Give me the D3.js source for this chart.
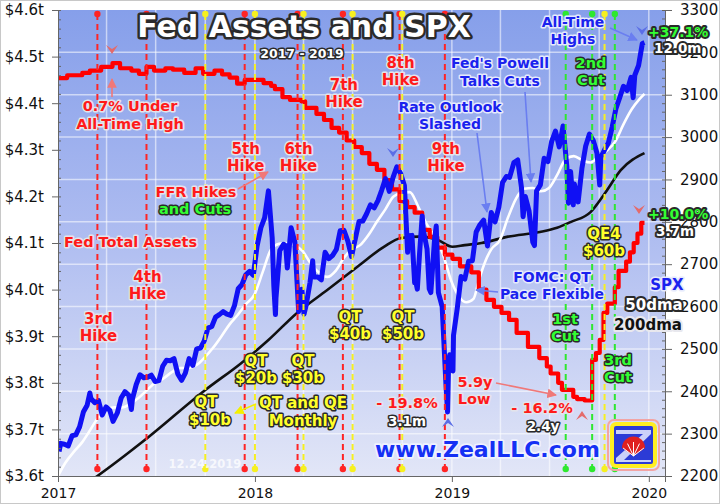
<!DOCTYPE html>
<html><head><meta charset="utf-8">
<script src="https://cdn.jsdelivr.net/npm/d3@7"></script>
<style>
body{margin:0;background:#fff}
svg{display:block}
.ax text{font-family:"DejaVu Sans",sans-serif;fill:#111}
.ax path,.ax line{stroke:#666}
</style></head>
<body><svg id="c" width="720" height="504"></svg>
<script>
// ---------- DATA ----------
const leftTicks = [3.6,3.7,3.8,3.9,4.0,4.1,4.2,4.3,4.4,4.5,4.6];
const rightTicks = [2200,2300,2400,2500,2600,2700,2800,2900,3000,3100,3200,3300];
const yearTicks = ["2017-01-01","2018-01-01","2019-01-01","2020-01-01"];
const gridQuarters = ["2017-04-01","2017-07-01","2017-10-01","2018-01-01","2018-04-01","2018-07-01","2018-10-01","2019-01-01","2019-04-01","2019-07-01","2019-10-01","2020-01-01"];
const gridSpx = [2300,2400,2500,2600,2700,2800,2900,3000,3100,3200];

const hikeDates = ["2017-03-15","2017-06-14","2017-12-13","2018-03-21","2018-06-13","2018-09-26","2018-12-19"];
const qtDates = ["2017-10-01","2018-01-01","2018-04-01","2018-07-01","2018-10-01","2019-10-11"];
const cutDates = ["2019-07-31","2019-09-18","2019-10-30"];

const spxClose = [
["2017-01-03",2258],["2017-01-06",2277],["2017-01-13",2275],["2017-01-20",2271],["2017-01-27",2295],
["2017-02-03",2297],["2017-02-10",2316],["2017-02-17",2351],["2017-02-24",2367],["2017-03-01",2396],
["2017-03-03",2383],["2017-03-10",2373],["2017-03-17",2378],["2017-03-24",2344],["2017-03-31",2363],
["2017-04-07",2355],["2017-04-13",2329],["2017-04-21",2349],["2017-04-28",2384],["2017-05-05",2399],
["2017-05-12",2391],["2017-05-17",2357],["2017-05-19",2382],["2017-05-26",2416],["2017-06-02",2439],
["2017-06-09",2432],["2017-06-16",2433],["2017-06-23",2438],["2017-06-30",2423],["2017-07-07",2425],
["2017-07-14",2459],["2017-07-21",2473],["2017-07-28",2472],["2017-08-04",2477],["2017-08-11",2441],
["2017-08-18",2426],["2017-08-25",2443],["2017-09-01",2477],["2017-09-08",2461],["2017-09-15",2500],
["2017-09-22",2502],["2017-09-29",2519],["2017-10-06",2549],["2017-10-13",2553],["2017-10-20",2575],
["2017-10-27",2581],["2017-11-03",2588],["2017-11-10",2582],["2017-11-17",2579],["2017-11-24",2602],
["2017-12-01",2642],["2017-12-08",2652],["2017-12-15",2675],["2017-12-22",2683],["2017-12-29",2674],
["2018-01-05",2743],["2018-01-12",2786],["2018-01-19",2810],["2018-01-26",2873],["2018-02-02",2762],
["2018-02-05",2649],["2018-02-08",2581],["2018-02-09",2620],["2018-02-16",2732],["2018-02-23",2747],
["2018-02-27",2744],["2018-03-02",2691],["2018-03-09",2786],["2018-03-16",2752],["2018-03-23",2588],
["2018-03-29",2641],["2018-04-02",2582],["2018-04-06",2604],["2018-04-13",2656],["2018-04-18",2708],
["2018-04-20",2670],["2018-04-27",2670],["2018-05-04",2663],["2018-05-11",2728],["2018-05-18",2713],
["2018-05-25",2721],["2018-06-01",2735],["2018-06-08",2779],["2018-06-15",2780],["2018-06-22",2755],
["2018-06-29",2718],["2018-07-06",2760],["2018-07-13",2801],["2018-07-20",2802],["2018-07-27",2819],
["2018-08-03",2840],["2018-08-10",2833],["2018-08-17",2850],["2018-08-24",2875],["2018-08-31",2902],
["2018-09-07",2872],["2018-09-14",2905],["2018-09-21",2930],["2018-09-28",2914],["2018-10-05",2886],
["2018-10-11",2728],["2018-10-12",2767],["2018-10-19",2768],["2018-10-24",2656],["2018-10-26",2659],
["2018-10-29",2641],["2018-11-02",2723],["2018-11-07",2814],["2018-11-09",2781],["2018-11-16",2736],
["2018-11-20",2642],["2018-11-23",2633],["2018-11-30",2760],["2018-12-03",2790],["2018-12-07",2633],
["2018-12-14",2600],["2018-12-21",2417],["2018-12-24",2351],["2018-12-26",2468],["2018-12-28",2486],
["2019-01-03",2448],["2019-01-04",2532],["2019-01-11",2596],["2019-01-18",2671],["2019-01-25",2665],
["2019-02-01",2707],["2019-02-08",2708],["2019-02-15",2776],["2019-02-22",2793],["2019-03-01",2804],
["2019-03-08",2743],["2019-03-15",2822],["2019-03-22",2800],["2019-03-29",2834],["2019-04-05",2893],
["2019-04-12",2907],["2019-04-18",2905],["2019-04-26",2940],["2019-05-03",2946],["2019-05-10",2881],
["2019-05-13",2812],["2019-05-17",2860],["2019-05-24",2826],["2019-05-31",2752],["2019-06-03",2744],
["2019-06-07",2873],["2019-06-14",2887],["2019-06-21",2950],["2019-06-28",2942],["2019-07-05",2990],
["2019-07-12",3014],["2019-07-19",2977],["2019-07-26",3026],["2019-08-02",2932],["2019-08-05",2844],
["2019-08-09",2919],["2019-08-14",2840],["2019-08-16",2889],["2019-08-23",2847],["2019-08-30",2926],
["2019-09-06",2979],["2019-09-13",3007],["2019-09-20",2992],["2019-09-27",2962],["2019-10-02",2887],
["2019-10-04",2952],["2019-10-11",2970],["2019-10-18",2986],["2019-10-25",3023],["2019-11-01",3067],
["2019-11-08",3093],["2019-11-15",3120],["2019-11-22",3110],["2019-11-29",3141],["2019-12-03",3093],
["2019-12-06",3146],["2019-12-13",3169],["2019-12-20",3221],["2019-12-24",3223]
];

const spx50dma = [
["2017-01-01",2200],["2017-01-15",2232],["2017-01-31",2258],["2017-02-15",2280],["2017-02-28",2305],
["2017-03-15",2335],["2017-03-31",2355],["2017-04-15",2362],["2017-04-30",2362],["2017-05-15",2370],
["2017-05-31",2385],["2017-06-15",2403],["2017-06-30",2420],["2017-07-15",2430],["2017-07-31",2445],
["2017-08-15",2455],["2017-08-31",2455],["2017-09-15",2462],["2017-09-30",2480],["2017-10-15",2502],
["2017-10-31",2530],["2017-11-15",2558],["2017-11-30",2580],["2017-12-15",2605],["2017-12-31",2628],
["2018-01-15",2680],["2018-01-31",2735],["2018-02-15",2748],["2018-02-28",2750],["2018-03-15",2745],
["2018-03-31",2730],["2018-04-15",2700],["2018-04-30",2680],["2018-05-15",2670],["2018-05-31",2685],
["2018-06-15",2715],["2018-06-30",2735],["2018-07-15",2745],["2018-07-31",2770],["2018-08-15",2800],
["2018-08-31",2830],["2018-09-15",2860],["2018-09-30",2868],["2018-10-15",2870],["2018-10-31",2835],
["2018-11-15",2795],["2018-11-30",2765],["2018-12-15",2725],["2018-12-31",2660],["2019-01-15",2622],
["2019-01-28",2610],["2019-02-10",2618],["2019-02-20",2662],["2019-03-05",2710],["2019-03-15",2735],
["2019-03-31",2757],["2019-04-15",2810],["2019-04-30",2855],["2019-05-15",2878],["2019-05-31",2880],
["2019-06-15",2872],["2019-06-30",2880],["2019-07-15",2910],["2019-07-31",2948],["2019-08-15",2955],
["2019-08-31",2945],["2019-09-15",2940],["2019-09-30",2955],["2019-10-15",2968],["2019-10-31",2990],
["2019-11-15",3030],["2019-11-30",3065],["2019-12-15",3090],["2019-12-24",3102]
];

const spx200dma = [
["2017-01-01",2140],["2017-03-15",2200],["2017-06-14",2288],["2017-10-01",2403],["2017-12-07",2467],
["2018-01-26",2521],["2018-03-20",2585],["2018-05-15",2639],["2018-07-10",2694],["2018-08-28",2741],
["2018-09-29",2762],["2018-11-01",2765],["2018-12-06",2757],["2019-01-02",2741],["2019-01-25",2745],
["2019-02-25",2750],["2019-04-15",2765],["2019-06-13",2776],["2019-07-15",2786],["2019-08-10",2800],
["2019-09-15",2823],["2019-10-12",2868],["2019-11-10",2922],["2019-12-24",2962]
];

const fedAssets = [
["2017-01-01",4.454],["2017-01-18",4.46],["2017-02-15",4.465],["2017-03-01",4.47],["2017-03-22",4.478],
["2017-04-12",4.486],["2017-04-26",4.475],["2017-05-17",4.47],["2017-05-31",4.463],["2017-06-14",4.478],
["2017-06-28",4.47],["2017-07-19",4.475],["2017-08-02",4.472],["2017-08-23",4.465],["2017-09-13",4.475],
["2017-09-27",4.463],["2017-10-18",4.47],["2017-11-01",4.462],["2017-11-15",4.455],["2017-11-29",4.442],
["2017-12-13",4.45],["2017-12-27",4.45],["2018-01-17",4.443],["2018-01-31",4.437],["2018-02-07",4.43],
["2018-02-21",4.413],["2018-03-07",4.407],["2018-03-28",4.404],["2018-04-04",4.39],["2018-04-25",4.377],
["2018-05-09",4.364],["2018-05-23",4.347],["2018-06-06",4.337],["2018-06-20",4.32],["2018-07-04",4.306],
["2018-07-18",4.293],["2018-08-01",4.27],["2018-08-15",4.257],["2018-08-29",4.235],["2018-09-12",4.215],
["2018-09-26",4.19],["2018-10-10",4.177],["2018-10-24",4.165],["2018-11-07",4.128],["2018-11-21",4.113],
["2018-12-05",4.09],["2018-12-19",4.075],["2019-01-02",4.066],["2019-01-16",4.05],["2019-02-06",4.037],
["2019-02-20",4.0],["2019-03-06",3.978],["2019-03-20",3.963],["2019-04-03",3.95],["2019-04-17",3.935],
["2019-05-01",3.907],["2019-05-22",3.877],["2019-06-12",3.853],["2019-06-26",3.835],["2019-07-03",3.82],
["2019-07-17",3.8],["2019-07-24",3.785],["2019-08-14",3.77],["2019-08-21",3.765],["2019-09-04",3.762],
["2019-09-18",3.849],["2019-09-25",3.864],["2019-10-02",3.892],["2019-10-09",3.95],["2019-10-16",3.97],
["2019-10-30",4.005],["2019-11-06",4.04],["2019-11-20",4.06],["2019-11-27",4.08],["2019-12-04",4.10],
["2019-12-11",4.12],["2019-12-18",4.143],["2019-12-24",4.143]
];

// ---------- SETUP ----------
const parse = d3.utcParse("%Y-%m-%d");
const L = 58, R = 665, T = 10, B = 476;
const svg = d3.select("#c");
const x = d3.scaleUtc().domain([parse("2017-01-01"), parse("2020-01-31")]).range([L, R]);
const yL = d3.scaleLinear().domain([3.6, 4.6]).range([B, T]);
const yR = d3.scaleLinear().domain([2200, 3300]).range([B, T]);
const FONT = '"DejaVu Sans", Verdana, sans-serif';

const defs = svg.append("defs");
const grad = defs.append("linearGradient").attr("id", "bg").attr("x1", 0).attr("y1", 0).attr("x2", 0).attr("y2", 1);
grad.append("stop").attr("offset", "0%").attr("stop-color", "#869fea");
grad.append("stop").attr("offset", "45%").attr("stop-color", "#abbaf0");
grad.append("stop").attr("offset", "100%").attr("stop-color", "#e2e6f7");
defs.append("clipPath").attr("id", "plot").append("rect").attr("x", L).attr("y", T).attr("width", R - L).attr("height", B - T);
function marker(id, color) {
  defs.append("marker").attr("id", id).attr("viewBox", "0 0 10 10").attr("refX", 9).attr("refY", 5)
    .attr("markerWidth", 6).attr("markerHeight", 6).attr("orient", "auto")
    .append("path").attr("d", "M0,0 L10,5 L0,10 z").attr("fill", color);
}
marker("arPink", "#f07878"); marker("arBlue", "#6a7ef0"); marker("arYel", "#f4f000");

svg.append("rect").attr("x", 0.5).attr("y", 0.5).attr("width", 719).attr("height", 503).attr("fill", "#fff").attr("stroke", "#c8c8c8");
svg.append("rect").attr("x", L).attr("y", T).attr("width", R - L).attr("height", B - T).attr("fill", "url(#bg)");

// grid
const grid = svg.append("g").attr("stroke", "#ffffff").attr("stroke-opacity", 0.55).attr("stroke-width", 1.5);
grid.selectAll(".h").data(gridSpx).join("line").attr("x1", L).attr("x2", R).attr("y1", d => yR(d)).attr("y2", d => yR(d));
grid.selectAll(".v").data(gridQuarters).join("line").attr("y1", T).attr("y2", B).attr("x1", d => x(parse(d))).attr("x2", d => x(parse(d)));

// series
const plot = svg.append("g").attr("clip-path", "url(#plot)");
const lineR = d3.line().x(d => x(parse(d[0]))).y(d => yR(d[1]));
const lineRs = d3.line().x(d => x(parse(d[0]))).y(d => yR(d[1])).curve(d3.curveMonotoneX);
const lineF = d3.line().x(d => x(parse(d[0]))).y(d => yL(d[1])).curve(d3.curveStepAfter);
plot.append("path").datum(spx200dma).attr("d", lineRs).attr("fill", "none").attr("stroke", "#111").attr("stroke-width", 2.6);
plot.append("path").datum(spx50dma).attr("d", lineRs).attr("fill", "none").attr("stroke", "#fff").attr("stroke-width", 2.6);
plot.append("path").datum(fedAssets).attr("d", lineF).attr("fill", "none").attr("stroke", "#ff0000").attr("stroke-width", 4.2).attr("stroke-linejoin", "round");
plot.append("path").datum(spxClose).attr("d", lineR).attr("fill", "none").attr("stroke", "#1010f4").attr("stroke-width", 5).attr("stroke-linejoin", "round");

// event lines
function events(dates, color) {
  const g = svg.append("g");
  g.selectAll("line").data(dates).join("line")
    .attr("x1", d => x(parse(d))).attr("x2", d => x(parse(d))).attr("y1", 14).attr("y2", 469)
    .attr("stroke", color).attr("stroke-width", 2).attr("stroke-dasharray", "6,4");
  g.selectAll(".t").data(dates).join("circle").attr("cx", d => x(parse(d))).attr("cy", 14).attr("r", 3.2).attr("fill", color);
  g.selectAll(".b").data(dates).join("circle").attr("cx", d => x(parse(d))).attr("cy", 469).attr("r", 3.2).attr("fill", color);
}
events(hikeDates, "#ff2424");
events(qtDates, "#f6f020");
events(cutDates, "#2ee82e");

// axes
const axL = svg.append("g").attr("class", "ax").attr("transform", `translate(${L},0)`)
  .call(d3.axisLeft(yL).tickValues(leftTicks).tickFormat(d => "$" + d.toFixed(1) + "t").tickSize(6).tickPadding(8));
axL.selectAll("text").style("font-size", "15px");
svg.append("g").attr("class", "ax").attr("transform", `translate(${L},0)`)
  .call(d3.axisRight(yL).ticks(50).tickSize(3).tickFormat("")).select(".domain").remove();
const axR = svg.append("g").attr("class", "ax").attr("transform", `translate(${R},0)`)
  .call(d3.axisRight(yR).tickValues(rightTicks).tickFormat(d3.format("d")).tickSize(7).tickPadding(8));
axR.selectAll("text").style("font-size", "15px");
svg.append("g").attr("class", "ax").attr("transform", `translate(${R},0)`)
  .call(d3.axisLeft(yR).ticks(55).tickSize(3).tickFormat("")).select(".domain").remove();
const axB = svg.append("g").attr("class", "ax").attr("transform", `translate(0,${B})`)
  .call(d3.axisBottom(x).tickValues(yearTicks.map(parse)).tickFormat(d3.utcFormat("%Y")).tickSize(6).tickPadding(6));
axB.selectAll("text").style("font-size", "14px");
svg.selectAll(".ax text").style("font-family", FONT);

// ---------- ANNOTATIONS ----------
const ann = svg.append("g");
function txt(s, tx, ty, fill, halo, size, anchor, hw) {
  ann.append("text").text(s).attr("x", tx).attr("y", ty)
    .attr("text-anchor", anchor || "middle").attr("fill", fill)
    .attr("stroke", halo).attr("stroke-width", hw || 3).attr("stroke-linejoin", "round")
    .attr("paint-order", "stroke").style("font-family", FONT).style("font-weight", "bold")
    .style("font-size", size + "px");
}
const RED = "#ff1a1a", RH = "#e4e4ec", BLU = "#1a22ee", BH = "#e6eafc", YEL = "#ffff2a", GRN = "#33ff33", DK = "#2a2a2a";
function arrow(x1, y1, x2, y2, color, m) {
  ann.append("line").attr("x1", x1).attr("y1", y1).attr("x2", x2).attr("y2", y2)
    .attr("stroke", color).attr("stroke-width", 1.6).attr("marker-end", `url(#${m})`);
}
function chevron(cx, cy, dir, color) {
  const s = dir === "down" ? 1 : -1;
  ann.append("path").attr("transform", `translate(${cx},${cy})`)
    .attr("d", `M-6,${-5 * s} L0,${4 * s} L6,${-5 * s} L0,${-1 * s} Z`).attr("fill", color);
}

// title
txt("Fed Assets and SPX", 304, 37, "#ffffff", "#2b2b2b", 30, "middle", 5);
txt("2017 - 2019", 302, 58, "#ffffff", "#2b2b2b", 12.5, "middle", 3);

// Fed peak
txt("0.7% Under", 130, 111, RED, RH, 14.5);
txt("All-Time High", 130, 129, RED, RH, 14.5);
arrow(112, 97, 112, 79, "#f07878", "arPink");
chevron(112, 50, "down", "#e46a6a");

// hikes
const hx = d => x(parse(d));
[[0, 324, 341, "3rd"], [1, 282, 299, "4th"], [2, 154, 171, "5th"], [3, 154, 171, "6th"], [4, 90, 107, "7th"], [5, 68, 85, "8th"], [6, 154, 171, "9th"]]
  .forEach(([i, y1, y2, s]) => {
    const cx = hx(hikeDates[i]) + 1;
    txt(s, cx, y1, RED, RH, 15);
    txt("Hike", cx, y2, RED, RH, 15);
  });
txt("FFR Hikes", 196, 197, RED, RH, 14.5);
txt("and Cuts", 195, 214, GRN, DK, 14.5);
arrow(238, 189, 268, 172, "#f07878", "arPink");
txt("Fed Total Assets", 64, 247, RED, RH, 14.5, "start");

// blue annotations
txt("Fed's Powell", 500, 68, BLU, BH, 14);
txt("Talks Cuts", 500, 86, BLU, BH, 14);
arrow(525, 92, 531, 182, "#6a7ef0", "arBlue");
txt("Rate Outlook", 450, 112, BLU, BH, 14);
txt("Slashed", 450, 129, BLU, BH, 14);
arrow(477, 133, 487, 212, "#6a7ef0", "arBlue");
txt("All-Time", 573, 27, BLU, BH, 14);
txt("Highs", 573, 44, BLU, BH, 14);
arrow(610, 28, 637, 40, "#6a7ef0", "arBlue");
chevron(642, 31, "down", "#5b6ee6");
chevron(393, 153, "down", "#5b6ee6");
chevron(448, 422, "up", "#5b6ee6");
txt("FOMC: QT", 552, 282, BLU, BH, 14);
txt("Pace Flexible", 552, 299, BLU, BH, 14);
arrow(498, 292, 476, 290, "#6a7ef0", "arBlue");

// right side stats
txt("+37.1%", 648, 37, GRN, DK, 14, "start", 4);
txt("12.0m", 654, 53, "#ffffff", DK, 13.5, "start", 4);
txt("+10.0%", 648, 219, GRN, DK, 14, "start", 4);
txt("3.7m", 656, 236, "#ffffff", DK, 13.5, "start", 4);
chevron(639, 210, "down", "#e46a6a");
txt("SPX", 667, 290, BLU, BH, 15);
txt("50dma", 654, 310, "#ffffff", DK, 15, "middle", 4);
txt("200dma", 648, 330, "#111111", "#e8e8ee", 15, "middle", 4);

// cuts
txt("1st", 565, 324, GRN, DK, 14.5);
txt("Cut", 565, 341, GRN, DK, 14.5);
txt("2nd", 591, 68, GRN, DK, 14.5);
txt("Cut", 591, 85, GRN, DK, 14.5);
txt("3rd", 618, 365, GRN, DK, 14.5);
txt("Cut", 618, 382, GRN, DK, 14.5);

// QT
txt("QT", 206, 407, YEL, DK, 15);
txt("$10b", 210, 425, YEL, DK, 15);
txt("QT", 256, 366, YEL, DK, 15);
txt("$20b", 256, 383, YEL, DK, 15);
txt("QT", 303, 366, YEL, DK, 15);
txt("$30b", 303, 383, YEL, DK, 15);
txt("QT and QE", 303, 408, YEL, DK, 15);
txt("Monthly", 303, 426, YEL, DK, 15);
arrow(256, 404, 235, 413, "#f4f000", "arYel");
txt("QT", 350, 322, YEL, DK, 15);
txt("$40b", 350, 339, YEL, DK, 15);
txt("QT", 403, 322, YEL, DK, 15);
txt("$50b", 403, 339, YEL, DK, 15);
txt("QE4", 604, 239, YEL, DK, 15);
txt("$60b", 604, 256, YEL, DK, 15);

// lows
txt("5.9y", 475, 387, RED, RH, 14.5);
txt("Low", 474, 404, RED, RH, 14.5);
arrow(496, 383, 556, 395, "#f07878", "arPink");
txt("- 19.8%", 407, 408, RED, RH, 14.5);
txt("3.1m", 407, 426, "#ffffff", DK, 13.5);
txt("- 16.2%", 542, 413, RED, RH, 14.5);
txt("2.4y", 543, 431, "#ffffff", DK, 13.5);
chevron(582, 415, "up", "#e46a6a");

// footer
txt("www.ZealLLC.com", 375, 457, "#1530f4", "#f0f2ff", 22, "start", 3.5);
ann.append("text").text("12.24.2019").attr("x", 205).attr("y", 468).attr("text-anchor", "middle")
  .attr("fill", "#ffffff").attr("fill-opacity", 0.75).style("font-family", FONT).style("font-weight", "bold").style("font-size", "11.5px");

// logo
const lg = svg.append("g").attr("transform", "translate(610,422)");
lg.append("rect").attr("x", -2).attr("y", -2).attr("width", 51).attr("height", 50).attr("rx", 6).attr("fill", "none").attr("stroke", "#f2a4a4").attr("stroke-width", 2);
lg.append("rect").attr("x", 2).attr("y", 2).attr("width", 43).attr("height", 42).attr("rx", 4).attr("fill", "#2c3bd6").attr("stroke", "#ffee22").attr("stroke-width", 4);
lg.append("path").attr("d", "M6,8 L41,8 L41,12 L14,38 L41,38 L41,40 L6,40 L6,36 L33,12 L6,12 Z").attr("fill", "#e8ecff").attr("opacity", 0.85);
lg.append("path").attr("d", "M12,26 A11.5,11.5 0 0 1 35,26 L23.5,34 Z").attr("fill", "#e02020");
[-60, -30, 0, 30, 60].forEach(a => {
  const r = a * Math.PI / 180;
  lg.append("line").attr("x1", 23.5).attr("y1", 34).attr("x2", 23.5 + 12 * Math.sin(r)).attr("y2", 34 - 12 * Math.cos(r) - 2)
    .attr("stroke", "#fff").attr("stroke-width", 1);
});
</script></body></html>
